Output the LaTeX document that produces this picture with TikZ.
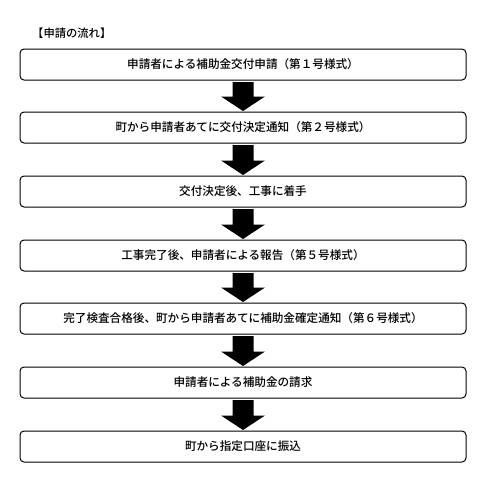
\documentclass[tikz,border=0pt]{standalone}
\usepackage{fontspec}
\setmainfont{Noto Sans CJK JP}[BoldFont={Noto Sans CJK JP Medium}]
\usetikzlibrary{calc}
\tikzset{
  stepbox/.style={draw=black, line width=1pt, rounded corners=4pt, minimum width=446pt, minimum height=31pt, inner sep=0pt, font=\fontsize{11.6pt}{13pt}\selectfont\bfseries},
}
\begin{document}
\begin{tikzpicture}[x=1pt,y=-1pt]
\useasboundingbox (0,0) rectangle (489,483);
\node[anchor=west, inner sep=0pt, font=\fontsize{11.3pt}{13pt}\selectfont\bfseries] (title) at (32,33) {【申請の流れ】};
\node[stepbox] (b1) at (243,64.5) {申請者による補助金交付申請（第１号様式）};
\node[stepbox] (b2) at (243,127.5) {町から申請者あてに交付決定通知（第２号様式）};
\node[stepbox] (b3) at (243,191.5) {交付決定後、工事に着手};
\node[stepbox] (b4) at (243,255.5) {工事完了後、申請者による報告（第５号様式）};
\node[stepbox] (b5) at (243,318.5) {完了検査合格後、町から申請者あてに補助金確定通知（第６号様式）};
\node[stepbox] (b6) at (243,382.5) {申請者による補助金の請求};
\node[stepbox] (b7) at (243,446.5) {町から指定口座に振込};
\foreach \a/\b in {b1/b2,b2/b3,b3/b4,b4/b5,b5/b6,b6/b7}{
  \fill[black] ($(\a.south)+(-10.5,1.5)$) -- ($(\b.north)+(-10.5,-15)$) -- ($(\b.north)+(-22,-15)$)
    -- ($(\b.north)+(0,-0.5)$) -- ($(\b.north)+(22,-15)$) -- ($(\b.north)+(10.5,-15)$)
    -- ($(\a.south)+(10.5,1.5)$) -- cycle;
}
\end{tikzpicture}
\end{document}
